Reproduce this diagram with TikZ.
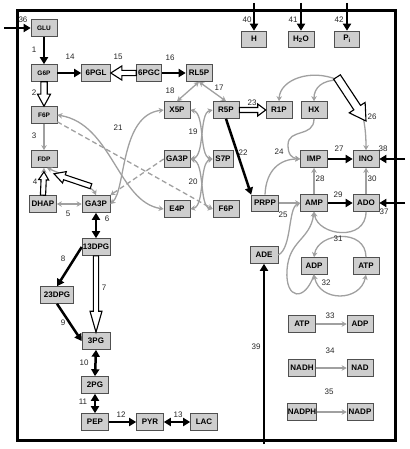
\documentclass[tikz,border=0pt]{standalone}
\usepackage{fontspec}
\setmainfont{Liberation Sans}
\usetikzlibrary{arrows.meta,calc}
\definecolor{boxfill}{RGB}{206,206,206}
\definecolor{boxline}{RGB}{80,80,80}
\definecolor{lg}{RGB}{160,160,160}
\newcommand\hollowarr[5]{%
  \coordinate (ha-s) at #1;
  \coordinate (ha-e) at #2;
  \coordinate (ha-c) at ($(ha-e)!#5!(ha-s)$);
  \draw[hol] ($(ha-s)!#3!90:(ha-e)$) -- ($(ha-c)!#3!-90:(ha-s)$) -- ($(ha-c)!#4!-90:(ha-s)$) -- (ha-e)
     -- ($(ha-c)!#4!90:(ha-s)$) -- ($(ha-c)!#3!90:(ha-s)$) -- ($(ha-s)!#3!-90:(ha-e)$) -- cycle;
}
\begin{document}
\begin{tikzpicture}[x=1pt,y=-1pt,
  box/.style={draw=boxline, fill=boxfill, line width=0.6pt, minimum width=26pt, minimum height=17pt, inner sep=0pt, font=\fontsize{8}{9}\selectfont\bfseries},
  sm/.style={font=\fontsize{6.5}{7}\selectfont\bfseries},
  blk/.style={line width=2.5pt, -{Triangle[length=7pt,width=8pt]}},
  blkd/.style={line width=2.5pt, {Triangle[length=7pt,width=8pt]}-{Triangle[length=7pt,width=8pt]}},
  gry/.style={draw=lg, line width=1.3pt, -{Stealth[length=5pt,width=5.5pt,inset=1.5pt]}},
  gryd/.style={draw=lg, line width=1.3pt, {Stealth[length=5pt,width=5.5pt,inset=1.5pt]}-{Stealth[length=5pt,width=5.5pt,inset=1.5pt]}},
  grydash/.style={draw=lg, line width=1.3pt, dash pattern=on 5pt off 3pt, -{Stealth[length=5pt,width=5.5pt,inset=1.5pt]}},
  hol/.style={draw=black, fill=white, line width=1.1pt, line join=miter},
  lbl/.style={font=\fontsize{8}{9}\selectfont, text=black!85, inner sep=0pt}]
\useasboundingbox (0,0) rectangle (409,449);
\draw[line width=3pt] (17,11) rectangle (395,440);

% nodes
\node[box,sm] (GLU) at (44,28) {GLU};
\node[box,sm] (G6P) at (44,73) {G6P};
\node[box,sm] (F6Pa) at (44,115) {F6P};
\node[box,sm] (FDP) at (44,159) {FDP};
\node[box,minimum width=27pt] (DHAP) at (43,204) {DHAP};
\node[box,minimum width=28pt] (GA3Pa) at (96,204) {GA3P};
\node[box,minimum width=28pt] (DPGa) at (96,247) {13DPG};
\node[box,minimum width=33pt] (DPGb) at (57,295) {23DPG};
\node[box,minimum width=28pt] (PG3) at (96,341) {3PG};
\node[box,minimum width=27pt] (PG2) at (95,385) {2PG};
\node[box,minimum width=27pt] (PEP) at (95,422) {PEP};
\node[box,minimum width=27pt] (PYR) at (150,422) {PYR};
\node[box,minimum width=27pt] (LAC) at (204,422) {LAC};
\node[box,minimum width=29pt] (PGL) at (96,73) {6PGL};
\node[box,minimum width=25pt] (PGC) at (149,73) {6PGC};
\node[box] (RL5P) at (199,73) {RL5P};
\node[box] (X5P) at (177,110) {X5P};
\node[box] (R5P) at (226,110) {R5P};
\node[box] (R1P) at (279,110) {R1P};
\node[box] (HX) at (314,110) {HX};
\node[box] (GA3Pb) at (177,159) {GA3P};
\node[box,minimum width=20pt] (S7P) at (223,159) {S7P};
\node[box] (E4P) at (177,209) {E4P};
\node[box] (F6Pb) at (226,209) {F6P};
\node[box,minimum width=27pt,minimum height=16pt] (PRPP) at (265,203) {PRPP};
\node[box,minimum width=27pt] (AMP) at (314,203) {AMP};
\node[box] (ADO) at (366,203) {ADO};
\node[box,minimum width=27pt] (IMP) at (314,159) {IMP};
\node[box] (INO) at (366,159) {INO};
\node[box,minimum width=28pt] (ADE) at (264,255) {ADE};
\node[box] (ADPa) at (314,266) {ADP};
\node[box] (ATPa) at (366,266) {ATP};
\node[box,minimum width=27pt] (ATPb) at (302,324) {ATP};
\node[box] (ADPb) at (360,324) {ADP};
\node[box,minimum width=27pt] (NADH) at (302,368) {NADH};
\node[box] (NAD) at (360,368) {NAD};
\node[box,minimum width=27pt] (NADPH) at (302,412) {NADPH};
\node[box] (NADP) at (360,412) {NADP};
\node[box,minimum width=25pt,minimum height=16pt] (H) at (254,39) {H};
\node[box,minimum height=16pt] (H2O) at (301,39) {H\textsubscript{2}O};
\node[box,minimum width=25pt,minimum height=16pt] (Pi) at (347,39) {P\textsubscript{i}};

% free ends
\coordinate (in36) at (4,28);
\coordinate (in37) at (405,203);
\coordinate (in38) at (405,159);
\coordinate (in39) at (264,444);
\coordinate (in40) at (254,3);
\coordinate (in41) at (301,3);
\coordinate (in42) at (347,3);
\coordinate (T26) at (338,80);

% glycolysis
\draw[blk] (in36) -- (GLU.west);
\draw[blk] (GLU.south) -- (G6P.north);
\draw[gry] (F6Pa.south) -- (FDP.north);
\draw[gry] (DHAP.north) -- (FDP.south);
\draw[gryd] (GA3Pa.north) .. controls (92,186) and (56,172) .. ($(FDP.south)+(3,0)$);
\draw[gryd] (DHAP.east) -- (GA3Pa.west);
\draw[blkd] (GA3Pa.south) -- (DPGa.north);
\draw[blk] (DPGa.west) -- (DPGb.north);
\draw[blk] (DPGb.south) -- (PG3.west);
\draw[blkd] (PG3.south) -- (PG2.north);
\draw[blkd] (PG2.south) -- (PEP.north);
\draw[blk] (PEP.east) -- (PYR.west);
\draw[blkd] (PYR.east) -- (LAC.west);
\draw[blk] (G6P.east) -- (PGL.west);
\draw[blk] (PGC.east) -- (RL5P.west);

% hollow arrows
\hollowarr{(G6P.south)}{(F6Pa.north)}{3.2pt}{6.5pt}{12pt}
\hollowarr{(DHAP.north)}{($(FDP.south)+(0,4)$)}{2.6pt}{5pt}{8pt}
\hollowarr{($(GA3Pa.north)+(-5,-9)$)}{($(FDP.south)+(10,6)$)}{2.6pt}{6pt}{11pt}
\hollowarr{(DPGa.south)}{(PG3.north)}{2.6pt}{6pt}{21pt}
\hollowarr{(PGC.west)}{(PGL.east)}{2.6pt}{7pt}{11pt}

% pentose phosphate
\draw[gryd] (RL5P.south) -- (R5P.north);
\draw[gryd] (RL5P.south) -- (X5P.north);
\draw[gryd] (X5P.east) .. controls (205,113) and (199,156) .. (S7P.west);
\draw[gryd] (R5P.west) .. controls (199,113) and (205,156) .. (GA3Pb.east);
\draw[gryd] (GA3Pb.east) .. controls (205,163) and (199,206) .. (F6Pb.west);
\draw[gryd] (S7P.west) .. controls (199,163) and (205,206) .. (E4P.east);
\draw[gryd] (F6Pa.east) .. controls (112,124) and (118,202) .. (E4P.west);
\draw[gryd] (X5P.west) .. controls (120,115) and (126,190) .. (GA3Pa.east);
\draw[grydash] ($(F6Pa.south east)+(0,-2)$) -- (F6Pb.west);
\draw[grydash] (GA3Pb.west) -- (GA3Pa.north east);
\draw[blk] (R5P.south) -- (PRPP.north west);
\draw[gry] (R5P.east) -- (R1P.west);
\hollowarr{(R5P.east)}{(R1P.west)}{2.5pt}{6pt}{8pt}

% purine
\draw[gry] (T26) .. controls (310,68) and (280,80) .. (R1P.north);
\draw[gry] (T26) .. controls (322,80) and (314,88) .. (HX.north);
\draw[gry] (T26) .. controls (356,92) and (366,110) .. (INO.north);
\hollowarr{($(T26)+(-1,-3)$)}{(366,121)}{4pt}{9.5pt}{16pt}
\draw[gry] (HX.south) .. controls (314,138) and (288,128) .. (288,145) .. controls (288,155) and (292,158) .. (IMP.west);
\draw[gry] (PRPP.north) .. controls (266,170) and (280,159) .. (IMP.west);
\draw[gry] (PRPP.east) -- (AMP.west);
\draw[gry] (ADE.east) .. controls (292,248) and (288,208) .. (AMP.west);
\draw[blk] (IMP.east) -- (INO.west);
\draw[blk] (AMP.east) -- (ADO.west);
\draw[gry] (AMP.north) -- (IMP.south);
\draw[gry] (ADO.north) -- (INO.south);
\draw[blk] (in37) -- (ADO.east);
\draw[blk] (in38) -- (INO.east);
\draw[gry] (ADO.south) .. controls (366,242) and (318,236) .. (AMP.south);
\draw[gry] (ATPa.north) .. controls (366,228) and (318,232) .. (ADPa.north);
\draw[gryd] (ADPa.south) .. controls (320,302) and (360,302) .. (ATPa.south);
\draw[gry] (ADPa.south) .. controls (305,302) and (285,300) .. (287,270) .. controls (289,240) and (310,240) .. (AMP.south);
\draw[blk] (in39) -- (ADE.south);
\draw[blk] (in40) -- (H.north);
\draw[blk] (in41) -- (H2O.north);
\draw[blk] (in42) -- (Pi.north);
\draw[gry] (ATPb.east) -- (ADPb.west);
\draw[gry] (NADH.east) -- (NAD.west);
\draw[gry] (NADPH.east) -- (NADP.west);

% labels
\node[lbl] (l36) at (23,20) {36};
\node[lbl] (l1) at (34,50) {1};
\node[lbl] (l2) at (34,93) {2};
\node[lbl] (l3) at (34,136) {3};
\node[lbl] (l4) at (35,182) {4};
\node[lbl] (l5) at (68,214) {5};
\node[lbl] (l6) at (107,219) {6};
\node[lbl] (l7) at (104,288) {7};
\node[lbl] (l8) at (63,259) {8};
\node[lbl] (l9) at (63,323) {9};
\node[lbl] (l10) at (84,363) {10};
\node[lbl] (l11) at (83,402) {11};
\node[lbl] (l12) at (121,415) {12};
\node[lbl] (l13) at (178,415) {13};
\node[lbl] (l14) at (70,57) {14};
\node[lbl] (l15) at (118,57) {15};
\node[lbl] (l16) at (170,58) {16};
\node[lbl] (l17) at (219,88) {17};
\node[lbl] (l18) at (170,91) {18};
\node[lbl] (l19) at (193,132) {19};
\node[lbl] (l20) at (193,182) {20};
\node[lbl] (l21) at (118,128) {21};
\node[lbl] (l22) at (243,153) {22};
\node[lbl] (l23) at (252,103) {23};
\node[lbl] (l24) at (279,152) {24};
\node[lbl] (l25) at (283,215) {25};
\node[lbl] (l26) at (372,117) {26};
\node[lbl] (l27) at (339,149) {27};
\node[lbl] (l28) at (320,179) {28};
\node[lbl] (l29) at (338,195) {29};
\node[lbl] (l30) at (372,179) {30};
\node[lbl] (l31) at (338,239) {31};
\node[lbl] (l32) at (326,283) {32};
\node[lbl] (l33) at (330,316) {33};
\node[lbl] (l34) at (330,351) {34};
\node[lbl] (l35) at (329,392) {35};
\node[lbl] (l37) at (384,212) {37};
\node[lbl] (l38) at (383,149) {38};
\node[lbl] (l39) at (256,347) {39};
\node[lbl] (l40) at (247,20) {40};
\node[lbl] (l41) at (293,20) {41};
\node[lbl] (l42) at (339,20) {42};
\end{tikzpicture}
\end{document}
